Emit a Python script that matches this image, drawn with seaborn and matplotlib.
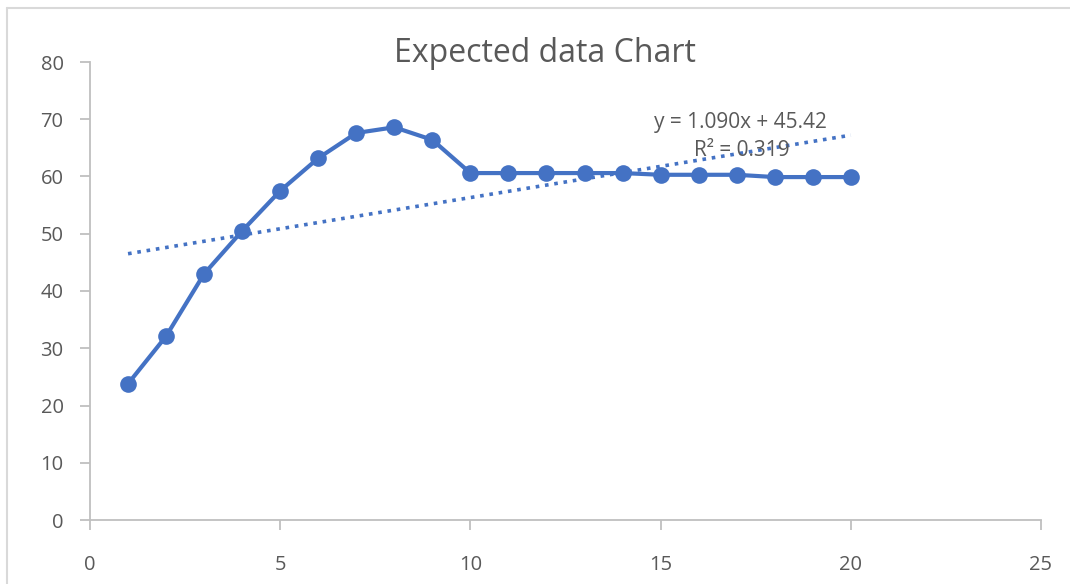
import matplotlib
matplotlib.use("Agg")
import matplotlib.pyplot as plt
import seaborn as sns
import numpy as np
import pandas as pd
from matplotlib.lines import Line2D

x_vals = [1, 2, 3, 4, 5, 6, 7, 8, 9, 10, 11, 12, 13, 14, 15, 16, 17, 18, 19, 20]
y_vals = [23.8, 32.1, 43.0, 50.5, 57.5, 63.2, 67.6, 68.6, 66.4, 60.6,
          60.6, 60.6, 60.6, 60.6, 60.3, 60.3, 60.3, 59.9, 59.9, 59.9]
trend_slope = 1.090
trend_intercept = 45.42
trend_r2 = 0.319
x_ticks = [0, 5, 10, 15, 20, 25]
y_ticks = [0, 10, 20, 30, 40, 50, 60, 70, 80]
title = "Expected data Chart"

sns.set_theme(style="white")
plt.rcParams['font.family'] = ['Open Sans', 'DejaVu Sans']

blue = "#4472C4"
grey_text = "#595959"
axis_col = "#BFBFBF"

W, H = 1070, 584
fig = plt.figure(figsize=(W/100, H/100), dpi=100)
ax = fig.add_axes([90/W, 1-520/H, (1041-90)/W, (520-62)/H])

df = pd.DataFrame({"x": x_vals, "y": y_vals})
sns.lineplot(data=df, x="x", y="y", ax=ax, color=blue, linewidth=3,
             marker="o", markersize=12, markeredgewidth=0, zorder=3)

tx = np.array([x_vals[0], x_vals[-1]])
ax.plot(tx, trend_slope * tx + trend_intercept, linestyle=(0, (1, 1.6)),
        color=blue, linewidth=2.6, zorder=2)

ax.set_xlim(0, 25)
ax.set_ylim(0, 80)
ax.set_xticks(x_ticks)
ax.set_yticks(y_ticks)
ax.set_xlabel("")
ax.set_ylabel("")
for s in ["top", "right"]:
    ax.spines[s].set_visible(False)
for s in ["left", "bottom"]:
    ax.spines[s].set_color(axis_col)
    ax.spines[s].set_linewidth(1.3)
ax.tick_params(axis="both", direction="out", length=7, width=1.3, color=axis_col,
               labelcolor=grey_text, labelsize=14.5)
ax.tick_params(axis="x", pad=18)
ax.tick_params(axis="y", pad=12)
ax.tick_params(bottom=True, left=True)

fig.text(545/W, 1-54/H, title, ha="center", va="center",
         fontsize=23, color=grey_text)

fig.text(740/W, 1-122/H, f"y = {trend_slope:.3f}x + {trend_intercept:.2f}",
         ha="center", va="center", fontsize=15, color=grey_text)
fig.text(742/W, 1-151/H, f"R² = {trend_r2:.3f}", ha="center", va="center",
         fontsize=15, color=grey_text)

# outer chart border (top and left visible)
fig.add_artist(Line2D([7/W, 7/W], [0, 1-8/H], transform=fig.transFigure,
                      color="#D9D9D9", linewidth=1.5))
fig.add_artist(Line2D([7/W, 1], [1-8/H, 1-8/H], transform=fig.transFigure,
                      color="#D9D9D9", linewidth=1.5))

fig.savefig("out.png", dpi=100, facecolor="white")
